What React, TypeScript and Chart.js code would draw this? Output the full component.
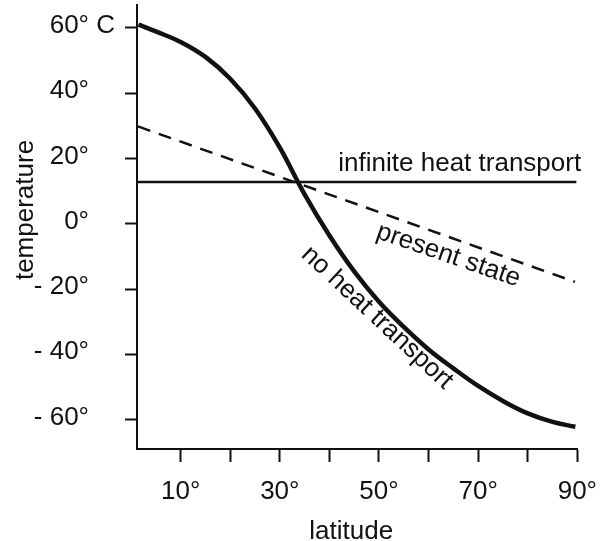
import React, { useEffect, useRef } from 'react';
import { Chart, registerables } from 'chart.js';

Chart.register(...registerables);

// ---- data ----
const NO_TRANSPORT_LAT = [1.5, 5, 10, 15, 20, 25, 30, 35, 40, 45, 50, 55, 60, 65, 70, 75, 80, 85, 89.6];
const NO_TRANSPORT_TEMP = [61.0, 58.9, 55.7, 51.1, 44.4, 35.3, 23.3, 9.0, -3.6, -14.6, -23.9, -31.6, -38.5, -44.3, -49.7, -54.3, -58.1, -60.7, -62.2];
const PRESENT_LAT = [1.4, 89.5];
const PRESENT_TEMP = [29.8, -17.8];
const INFINITE_LAT = [1.4, 89.8];
const INFINITE_TEMP = [12.8, 12.8];

const X_TICKS = [10, 20, 30, 40, 50, 60, 70, 80, 90];
const X_TICK_LABELS = ['10°', '', '30°', '', '50°', '', '70°', '', '90°'];
const Y_TICKS = [60, 40, 20, 0, -20, -40, -60];
const Y_TICK_LABELS = ['60° C', '40°', '20°', '0°', '- 20°', '- 40°', '- 60°'];

const X_TITLE = 'latitude';
const Y_TITLE = 'temperature';
const CURVE_LABELS = ['infinite heat transport', 'present state', 'no heat transport'];
// anchor of each curve label in data units (latitude, temperature) and its rotation in degrees
const CURVE_LABEL_LAT = [41.8, 64.0, 49.6];
const CURVE_LABEL_TEMP = [16.1, -9.7, -28.8];
const CURVE_LABEL_ROT = [0, 19, 43];

const FONT = "'Liberation Sans', Arial, Helvetica, sans-serif";
const INK = '#111';

const toPoints = (xs: number[], ys: number[]) => xs.map((x, i) => ({ x, y: ys[i] }));

const annotate = {
  id: 'annotate',
  afterDraw(chart: any) {
    const { ctx, chartArea } = chart;
    const xs = chart.scales.x;
    const ys = chart.scales.y;
    ctx.save();
    ctx.fillStyle = INK;
    ctx.font = `26px ${FONT}`;

    // y tick labels (right aligned on the number, so "60° C" overhangs)
    ctx.textBaseline = 'middle';
    ctx.textAlign = 'left';
    const right = chartArea.left - 48;
    Y_TICKS.forEach((v, i) => {
      const label = Y_TICK_LABELS[i];
      const anchor = label.split(' C')[0];
      ctx.fillText(label, right - ctx.measureText(anchor).width, ys.getPixelForValue(v) - 2);
    });

    // axis titles
    ctx.textAlign = 'center';
    ctx.textBaseline = 'alphabetic';
    ctx.fillText(X_TITLE, (chartArea.left + chartArea.right) / 2 - 6, chart.height - 2);
    ctx.save();
    ctx.translate(33, (chartArea.top + chartArea.bottom) / 2 - 17);
    ctx.rotate(-Math.PI / 2);
    ctx.fillText(Y_TITLE, 0, 0);
    ctx.restore();

    // curve labels
    CURVE_LABELS.forEach((text, i) => {
      const px = xs.getPixelForValue(CURVE_LABEL_LAT[i]);
      const py = ys.getPixelForValue(CURVE_LABEL_TEMP[i]);
      ctx.save();
      ctx.translate(px, py);
      ctx.rotate((CURVE_LABEL_ROT[i] * Math.PI) / 180);
      if (i === 0) {
        ctx.textAlign = 'left';
        ctx.textBaseline = 'alphabetic';
      } else {
        ctx.textAlign = 'center';
        ctx.textBaseline = 'middle';
      }
      ctx.fillText(text, 0, 0);
      ctx.restore();
    });
    ctx.restore();
  },
};

export default function App() {
  const ref = useRef<HTMLCanvasElement | null>(null);

  useEffect(() => {
    if (!ref.current) return;
    Chart.defaults.font.family = FONT;
    Chart.defaults.font.size = 26;
    Chart.defaults.color = INK;

    const chart = new Chart(ref.current, {
      type: 'line',
      data: {
        datasets: [
          {
            label: CURVE_LABELS[2],
            data: toPoints(NO_TRANSPORT_LAT, NO_TRANSPORT_TEMP),
            borderColor: INK,
            borderWidth: 4.5,
            pointRadius: 0,
            tension: 0.4,
            fill: false,
          },
          {
            label: CURVE_LABELS[1],
            data: toPoints(PRESENT_LAT, PRESENT_TEMP),
            borderColor: INK,
            borderWidth: 2.5,
            borderDash: [13, 9],
            pointRadius: 0,
            fill: false,
          },
          {
            label: CURVE_LABELS[0],
            data: toPoints(INFINITE_LAT, INFINITE_TEMP),
            borderColor: INK,
            borderWidth: 2.5,
            pointRadius: 0,
            fill: false,
          },
        ],
      },
      options: {
        responsive: false,
        animation: false,
        events: [],
        layout: { padding: { top: 5, right: 25, left: 0, bottom: 0 } },
        plugins: {
          legend: { display: false },
          tooltip: { enabled: false },
        },
        scales: {
          x: {
            type: 'linear',
            min: 1.2,
            max: 90,
            afterBuildTicks: (s: any) => {
              s.ticks = X_TICKS.map((value) => ({ value }));
            },
            afterFit: (s: any) => {
              s.height = 92;
            },
            ticks: {
              autoSkip: false,
              maxRotation: 0,
              padding: 14,
              color: INK,
              font: { size: 26, family: FONT },
              callback: (v: any) => X_TICK_LABELS[X_TICKS.indexOf(Number(v))] ?? '',
            },
            grid: {
              drawOnChartArea: false,
              drawTicks: true,
              tickLength: 13,
              tickWidth: 2,
              tickColor: INK,
              color: INK,
            },
            border: { display: true, color: INK, width: 2 },
            title: { display: false },
          },
          y: {
            type: 'linear',
            min: -69,
            max: 67,
            afterBuildTicks: (s: any) => {
              s.ticks = Y_TICKS.map((value) => ({ value }));
            },
            afterFit: (s: any) => {
              s.width = 137;
            },
            ticks: { display: false },
            grid: {
              drawOnChartArea: false,
              drawTicks: true,
              tickLength: 12,
              tickWidth: 2,
              tickColor: INK,
              color: INK,
            },
            border: { display: true, color: INK, width: 2 },
            title: { display: false },
          },
        },
      },
      plugins: [annotate],
    } as any);

    return () => chart.destroy();
  }, []);

  return (
    <div style={{ position: 'absolute', left: 0, top: 0, width: 611, height: 541, background: '#fff' }}>
      <canvas ref={ref} width={611} height={541} style={{ display: 'block' }} />
    </div>
  );
}
